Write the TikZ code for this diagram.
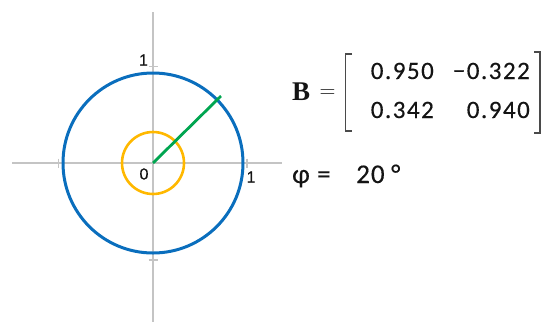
\documentclass[tikz,border=0pt]{standalone}
\usepackage{fontspec}
\newfontfamily\calfont[LetterSpace=6,FakeBold=0.4]{Carlito}
\newfontfamily\calphi[LetterSpace=4,FakeBold=0.4]{Carlito}
\newfontfamily\arialfont[FakeBold=0.3]{Liberation Sans}
\newfontfamily\timesfont{Liberation Serif}
\definecolor{axisgrey}{HTML}{C4C4C4}
\definecolor{brkgrey}{HTML}{4A4A4A}
\definecolor{cblue}{HTML}{0A6EBD}
\definecolor{corange}{HTML}{FFB800}
\definecolor{cgreen}{HTML}{00A550}
\definecolor{textblack}{HTML}{141414}
\begin{document}
\begin{tikzpicture}[x=1pt,y=-1pt,
  axis/.style={draw=axisgrey,line width=1.3pt},
  tickmark/.style={draw=axisgrey,line width=1.3pt},
  axlabel/.style={font=\arialfont\fontsize{16}{16}\selectfont, inner sep=0, text=textblack},
  entry/.style={font=\calfont\fontsize{25}{25}\selectfont, inner sep=0, anchor=base east, text=textblack},
  phitext/.style={font=\calphi\fontsize{27}{27}\selectfont, inner sep=0, anchor=base west, text=textblack},
  brk/.style={draw=brkgrey, line width=1.4pt},
]
\useasboundingbox (0,0) rectangle (545,322);
% axes
\coordinate (O) at (153,163);
\coordinate (yt) at (153,12);
\coordinate (yb) at (153,322);
\coordinate (xl) at (12,163);
\coordinate (xr) at (282,163);
\draw[axis] (xl) -- (xr);
\draw[axis] (yt) -- (yb);
% ticks
\draw[tickmark] (148.5,66.5) -- (157.5,66.5);
\draw[tickmark] (148.5,260) -- (157.5,260);
\draw[tickmark] (58.5,158.5) -- (58.5,167.5);
\draw[tickmark] (247,158.5) -- (247,167.5);
% circles
\draw[draw=cblue, line width=3pt] (O) circle[radius=90];
\draw[draw=corange, line width=2.6pt] (O) circle[radius=31];
\coordinate (G) at (221,96);
\draw[draw=cgreen, line width=2.8pt] (O) -- (G);
% axis labels
\node[axlabel] (l1y) at (143.5,60) {1};
\node[axlabel] (l0) at (144,174) {0};
\node[axlabel] (l1x) at (251,177) {1};
% matrix
\node[font=\timesfont\bfseries\fontsize{27}{27}\selectfont, anchor=base west, inner sep=0, text=textblack] (B) at (292,100) {B};
\node[font=\fontsize{22}{22}\selectfont, anchor=base, inner sep=0, text=textblack] (eqB) at (327.5,97.5) {=};
\draw[brk] (352,54) -- (345.5,54) -- (345.5,131) -- (352,131);
\draw[brk] (534,52) -- (540,52) -- (540,133) -- (534,133);
\node[entry] (a11) at (434,79) {0.950};
\node[entry] (a12) at (530,79) {−0.322};
\node[entry] (a21) at (434,118) {0.342};
\node[entry] (a22) at (530,118) {0.940};
% phi line
\node[phitext] (phi) at (292,183) {φ};
\node[phitext] (eqphi) at (317,183) {=};
\node[phitext] (val) at (356,183) {20};
\node[phitext] (deg) at (391,183) {°};
\end{tikzpicture}
\end{document}
